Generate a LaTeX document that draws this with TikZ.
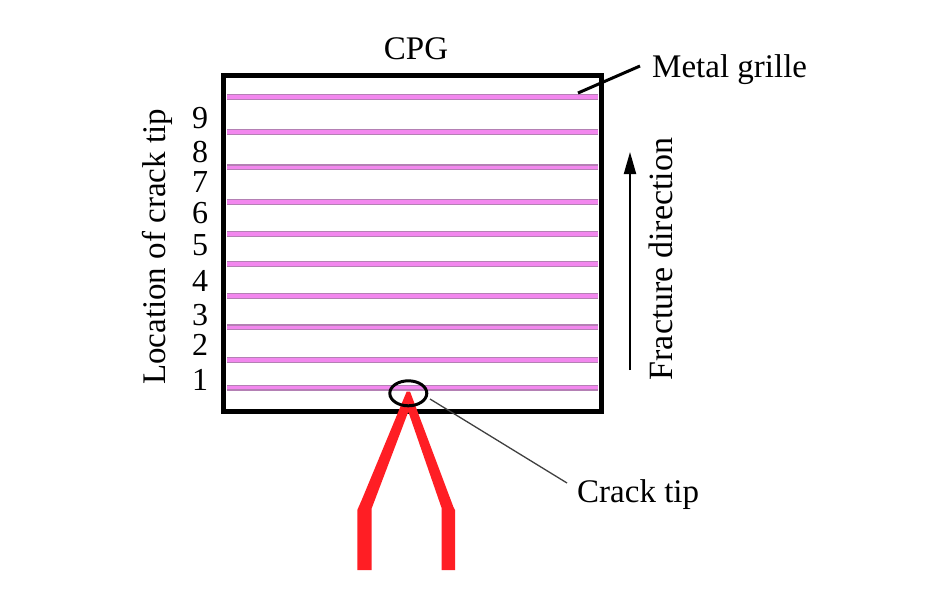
\documentclass[tikz,border=0pt]{standalone}
\usepackage{fontspec}
\setmainfont{Liberation Serif}
\newfontfamily\tnr{Liberation Serif}
\usetikzlibrary{arrows.meta,shapes.geometric}
\definecolor{grilleedge}{RGB}{180,128,180}
\definecolor{grillecore}{RGB}{242,135,238}
\definecolor{crackred}{RGB}{255,30,36}
\tikzset{
  lbl/.style={inner sep=0pt, font=\tnr\fontsize{33}{38}\selectfont},
  digit/.style={inner sep=0pt, font=\tnr\fontsize{32}{38}\selectfont},
  grilleA/.style={line width=6pt, grilleedge},
  grilleB/.style={line width=3.6pt, grillecore},
  frame/.style={line width=5pt, black, line join=miter},
  leader/.style={line width=3pt, black},
  thinleader/.style={line width=1.3pt, black!75},
}
\begin{document}
\begin{tikzpicture}[x=1pt,y=-1pt]
\useasboundingbox[fill=white] (0,0) rectangle (945,605);
% grille lines
\foreach \yy in {96.7,131.7,167.3,201.7,234,264,296,327.3,360,387.5}{
  \draw[grilleA] (227,\yy) -- (598,\yy);
  \draw[grilleB] (227,\yy) -- (598,\yy);
}
% frame
\draw[frame] (223.5,75.5) rectangle (601,411);
% crack
\fill[crackred] (357.3,570) -- (357.3,510) -- (361.7,500) -- (406.7,391.5) -- (410,391.5)
  -- (453.3,506.7) -- (455,510) -- (455,570) -- (441.7,570) -- (441.7,508.3)
  -- (408.3,411.7) -- (371.7,508.3) -- (371.7,570) -- cycle;
% crack tip ellipse
\node[draw, line width=3pt, ellipse, inner sep=0pt, minimum width=37pt, minimum height=25pt] (tipmark) at (408.3,393.3) {};
% labels
\node[lbl, anchor=base] (cpg) at (416,59) {CPG};
\node[lbl, anchor=base west] (mg) at (652,77) {Metal grille};
\node[lbl, anchor=base west] (ct) at (577,502) {Crack tip};
\node[lbl, anchor=base, rotate=90, font=\tnr\fontsize{33}{38}\selectfont] (loc) at (165,247) {Location of crack tip};
\node[lbl, anchor=base, rotate=90, font=\tnr\fontsize{34}{40}\selectfont] (fd) at (672,259) {Fracture direction};
\foreach \d/\yy in {9/128,8/162,7/192,6/223,5/255,4/291,3/325,2/355,1/390}{
  \node[digit, anchor=base] (n\d) at (200,\yy) {\d};
}
% leaders
\coordinate (mgA) at (578,93);
\coordinate (mgB) at (640,66);
\draw[leader] (mgA) -- (mgB);
\coordinate (ctA) at (430,399);
\coordinate (ctB) at (567,483);
\draw[thinleader] (ctA) -- (ctB);
% fracture direction arrow
\coordinate (arA) at (630,370);
\coordinate (arB) at (630,152);
\draw[line width=2pt, -{Triangle[length=22pt,width=12pt]}] (arA) -- (arB);
\end{tikzpicture}
\end{document}
